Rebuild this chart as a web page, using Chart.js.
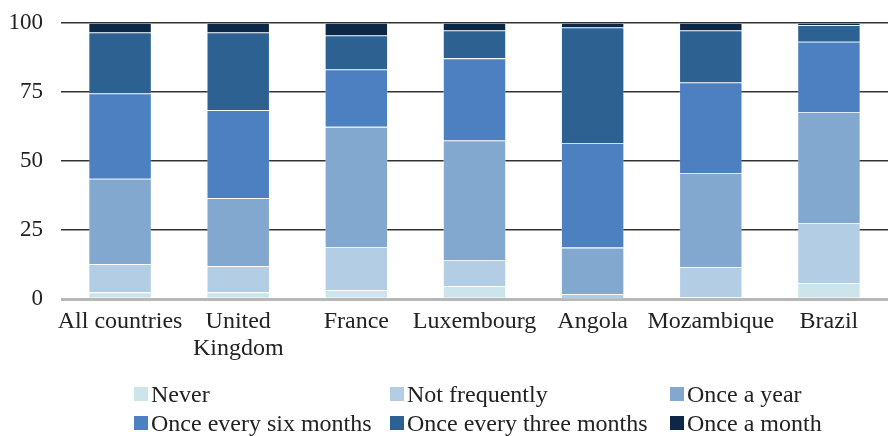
<!DOCTYPE html>
<html>
<head>
<meta charset="utf-8">
<script src="https://cdn.jsdelivr.net/npm/chart.js@4"></script>
<style>
  body { margin: 0; background: #fff; }
  #wrap { position: relative; width: 888px; height: 436px; }
  #legend { position: absolute; left: 0; top: 0; width: 888px; height: 436px; pointer-events: none;
            font-family: "Liberation Serif", "Times New Roman", serif; font-size: 24px; color: #222; }
  .item { position: absolute; display: flex; align-items: center; white-space: nowrap; }
  .box { width: 14px; height: 14px; margin-right: 3px; }
</style>
</head>
<body>
<div id="wrap">
  <canvas id="chart" width="888" height="436"></canvas>
  <div id="legend"></div>
</div>
<script>
var categories = ['All countries', ['United', 'Kingdom'], 'France', 'Luxembourg', 'Angola', 'Mozambique', 'Brazil'];
var seriesNames = ['Never', 'Not frequently', 'Once a year', 'Once every six months', 'Once every three months', 'Once a month'];
var seriesColors = ['#cce5ea', '#b3cde5', '#83a8cf', '#4c80c1', '#2c6192', '#0d2747'];

var never       = [2.5, 2.5, 3.3, 4.7, 0.3, 0.7, 5.8];
var notFreq     = [10.2, 9.5, 15.6, 9.5, 1.5, 10.9, 21.8];
var onceYear    = [30.9, 24.6, 43.5, 43.3, 16.9, 34.1, 40.2];
var sixMonths   = [30.9, 31.8, 20.8, 29.7, 37.9, 32.8, 25.4];
var threeMonths = [22.1, 28.2, 12.3, 10.1, 41.8, 18.8, 6.0];
var onceMonth   = [3.4, 3.4, 4.5, 2.7, 1.6, 2.7, 0.8];

var yTicks = [0, 25, 50, 75, 100];

var allSeries = [never, notFreq, onceYear, sixMonths, threeMonths, onceMonth];

var datasets = allSeries.map(function (vals, i) {
  return {
    label: seriesNames[i],
    data: vals,
    backgroundColor: seriesColors[i],
    borderColor: 'rgba(255,255,255,0.35)',
    borderWidth: 0.8,
    barPercentage: 0.8,
    categoryPercentage: 0.667
  };
});

var font = { family: '"Liberation Serif", "Times New Roman", serif', size: 24, lineHeight: 1.13 };

new Chart(document.getElementById('chart').getContext('2d'), {
  type: 'bar',
  data: { labels: categories, datasets: datasets },
  options: {
    responsive: false,
    animation: false,
    layout: { padding: { top: 23, right: 0, bottom: 72.5, left: 0 } },
    plugins: { legend: { display: false }, tooltip: { enabled: false } },
    scales: {
      x: {
        stacked: true,
        grid: { display: false },
        border: { display: false },
        ticks: { color: '#222', font: font, padding: 1, maxRotation: 0, autoSkip: false }
      },
      y: {
        stacked: true,
        min: 0,
        max: 100,
        afterFit: function (s) { s.width = 61; s.paddingTop = 0; s.paddingBottom = 0; },
        afterBuildTicks: function (s) { s.ticks = yTicks.map(function (v) { return { value: v }; }); },
        border: { display: false },
        grid: {
          drawTicks: false,
          color: function (c) { return c.tick.value === 0 ? '#b8b8b8' : '#333'; },
          lineWidth: function (c) { return c.tick.value === 0 ? 3 : 1.5; }
        },
        ticks: { color: '#222', font: { family: font.family, size: 23 }, padding: 18 }
      }
    }
  }
});

// legend laid out as a 3-column grid like the original
var legendCols = [134, 390, 670];
var legendRows = [394, 423];
var legend = document.getElementById('legend');
seriesNames.forEach(function (name, i) {
  var el = document.createElement('div');
  el.className = 'item';
  el.style.left = legendCols[i % 3] + 'px';
  el.style.top = (legendRows[Math.floor(i / 3)] - 14) + 'px';
  el.style.height = '28px';
  el.innerHTML = '<span class="box" style="background:' + seriesColors[i] + '"></span><span>' + name + '</span>';
  legend.appendChild(el);
});
</script>
</body>
</html>
